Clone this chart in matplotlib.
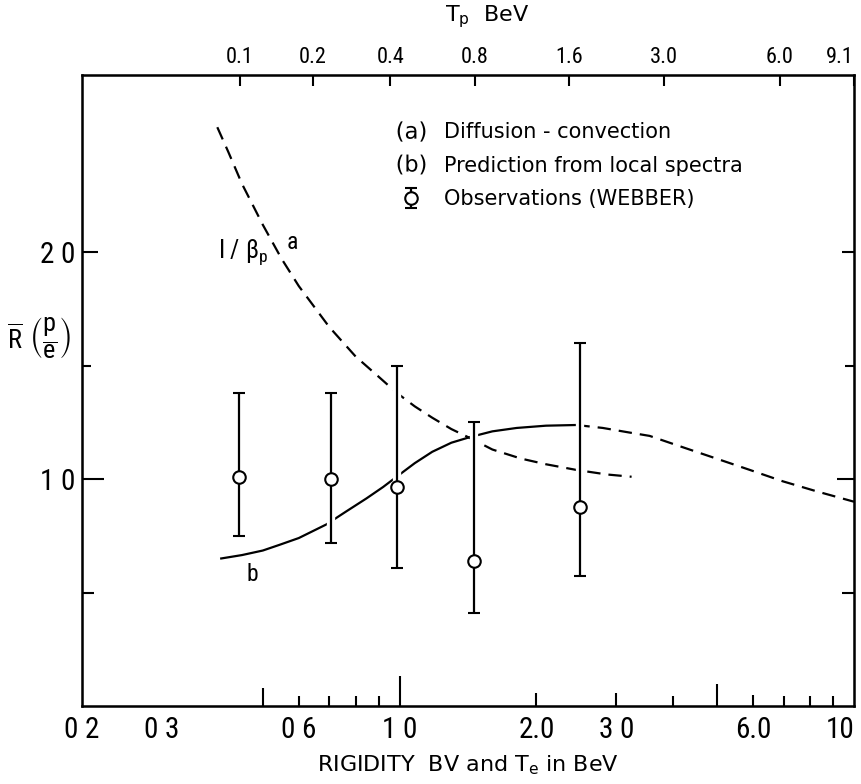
import numpy as np
import matplotlib
matplotlib.use("Agg")
import matplotlib.pyplot as plt
from matplotlib import font_manager
from matplotlib.lines import Line2D
import matplotlib.patheffects as pe

# pick a narrow sans if one is installed, the lettering on the original is condensed
fonts = font_manager.fontManager.ttflist
names = {f.name for f in fonts}
family = 'Liberation Sans'
stretch = 'normal'
for cand in ['Liberation Sans Narrow', 'DejaVu Sans Condensed', 'Roboto Condensed',
             'Noto Sans Condensed', 'Open Sans Condensed']:
    if cand in names:
        family = cand
        break
else:
    for f in fonts:
        if f.name in ('Noto Sans', 'Roboto', 'Open Sans', 'DejaVu Sans') and \
                f.stretch in ('condensed', 'semi-condensed', 'extra-condensed'):
            family = f.name
            stretch = f.stretch
            break

plt.rcParams['font.family'] = [family, 'DejaVu Sans']
plt.rcParams['font.stretch'] = stretch
plt.rcParams['mathtext.default'] = 'regular'
wide = ['DejaVu Sans']

# curve (a): diffusion-convection, 1/beta_p  (rigidity BV, R-bar)
a_rig = [0.397, 0.42, 0.45, 0.50, 0.55, 0.60, 0.70, 0.80, 0.90, 0.985,
         1.08, 1.18, 1.30, 1.43, 1.60, 1.85, 2.10, 2.45, 2.86, 3.24]
a_val = [2.55, 2.44, 2.30, 2.12, 1.97, 1.85, 1.67, 1.54, 1.45, 1.38,
         1.32, 1.27, 1.22, 1.18, 1.13, 1.09, 1.065, 1.04, 1.02, 1.01]

# curve (b): prediction from local spectra, solid then dashed
b_rig = [0.405, 0.45, 0.50, 0.544, 0.60, 0.69, 0.76, 0.846, 0.92, 0.985,
         1.08, 1.18, 1.30, 1.43, 1.60, 1.81, 2.10, 2.45,
         2.80, 3.20, 3.55, 4.20, 4.98, 5.90, 6.97, 8.30, 10.0]
b_val = [0.65, 0.665, 0.685, 0.71, 0.74, 0.80, 0.855, 0.915, 0.965, 1.01,
         1.07, 1.12, 1.16, 1.185, 1.21, 1.225, 1.235, 1.238,
         1.225, 1.205, 1.19, 1.14, 1.09, 1.04, 0.99, 0.945, 0.90]
b_solid_end = 2.45

# observations (WEBBER)
obs_rig = [0.444, 0.708, 0.985, 1.46, 2.49]
obs_val = [1.01, 1.00, 0.965, 0.64, 0.877]
obs_hi = [1.38, 1.38, 1.50, 1.25, 1.60]
obs_lo = [0.75, 0.72, 0.61, 0.41, 0.573]

# bottom axis
x_major = [0.2, 0.3, 0.5, 0.6, 1.0, 2.0, 3.0, 5.0, 6.0, 10.0]
x_major_lbl = ['0 2', '0 3', '', '0 6', '1 0', '2.0', '3 0', '', '6.0', '10']
x_major_len = [0, 0, 13, 7, 21.5, 9.5, 9.5, 16, 8, 0]
x_minor = [0.7, 0.8, 0.9, 4.0, 7.0, 8.0, 9.0]

# top axis: proton kinetic energy
tp_vals = [0.1, 0.2, 0.4, 0.8, 1.6, 3.0, 6.0, 9.1]
tp_lbls = ['0.1', '0.2', '0.4', '0.8', '1.6', '3.0', '6.0', '9.1']
m_p = 0.938

y_ticks = [0.5, 1.0, 1.5, 2.0]
y_lbls = ['', '1 0', '', '2 0']
y_len_left = [8.5, 16, 6.5, 11.5]
y_len_right = [8.5, 12, 6.5, 8.5]

fig = plt.figure(figsize=(8.61, 7.84), dpi=100)
ax = fig.add_axes([82 / 861, 1 - 706 / 784, 772 / 861, 631 / 784])
ax.set_xscale('log')
ax.set_xlim(0.2, 10)
ax.set_ylim(0, 2.78)

lw = 1.6
dash = (6, 3.6)
ax.plot(a_rig, a_val, color='k', lw=lw, dashes=dash, zorder=2)
b_rig = np.array(b_rig)
b_val = np.array(b_val)
s = b_rig <= b_solid_end
ax.plot(b_rig[s], b_val[s], color='k', lw=lw, zorder=2)
d = b_rig >= b_solid_end
ax.plot(b_rig[d], b_val[d], color='k', lw=lw, dashes=dash, zorder=2)

obs_val = np.array(obs_val)
yerr = [obs_val - np.array(obs_lo), np.array(obs_hi) - obs_val]
eb = ax.errorbar(obs_rig, obs_val, yerr=yerr, fmt='o', ms=9, mfc='white',
                 mec='k', mew=1.5, color='k', elinewidth=1.6, capsize=4.5,
                 capthick=1.6, zorder=3, label='Observations (WEBBER)')
for ln in eb[2]:
    ln.set_path_effects([pe.Stroke(linewidth=6, foreground='white'), pe.Normal()])

ax.text(0.512, 2.0, r'I / $\beta_{p}$', ha='right', va='center', fontsize=18)
ax.text(0.565, 2.04, 'a', ha='left', va='center', fontsize=17)
ax.text(0.475, 0.58, 'b', ha='center', va='center', fontsize=17)

h_a = Line2D([], [], ls='none', marker=r'$\mathsf{(a)}$', color='k', markersize=20, mew=0)
h_b = Line2D([], [], ls='none', marker=r'$\mathsf{(b)}$', color='k', markersize=20, mew=0)
ax.legend([h_a, h_b, eb], ['Diffusion - convection', 'Prediction from local spectra',
                          'Observations (WEBBER)'],
          loc='upper left', bbox_to_anchor=(0.379, 0.955), frameon=False,
          prop={'family': wide, 'size': 15}, handlelength=1.7,
          handletextpad=0.75, labelspacing=0.65)

# bottom / left ticks
ax.set_xticks(x_major)
ax.set_xticklabels(x_major_lbl)
ax.set_xticks(x_minor, minor=True)
ax.xaxis.set_minor_formatter(plt.NullFormatter())
ax.tick_params(axis='x', which='both', direction='in', top=False, width=1.5,
               labelsize=21, pad=7)
ax.tick_params(axis='x', which='minor', length=7)
for t, ln in zip(ax.xaxis.get_major_ticks(), x_major_len):
    t.tick1line.set_markersize(ln)
ax.get_xticklabels()[-1].set_ha('right')

ax.set_yticks(y_ticks)
ax.set_yticklabels(y_lbls)
ax.tick_params(axis='y', direction='in', right=True, width=1.5, labelsize=21, pad=4.5)
for t, l1, l2 in zip(ax.yaxis.get_major_ticks(), y_len_left, y_len_right):
    t.tick1line.set_markersize(l1)
    t.tick2line.set_markersize(l2)

for sp in ax.spines.values():
    sp.set_linewidth(1.8)

ax.set_xlabel(r'RIGIDITY  BV and T$_{e}$ in BeV', fontsize=16, family=wide,
              labelpad=7)
fig.text(0.046, 0.569, r'$\overline{R}\ \left(\dfrac{p}{e}\right)$', fontsize=19,
         ha='center', va='center')

# top axis in proton kinetic energy
top = ax.twiny()
top.set_xscale('log')
top.set_xlim(ax.get_xlim())
tp_pos = [np.sqrt(t * t + 2 * t * m_p) for t in tp_vals]
top.set_xticks(tp_pos)
top.set_xticklabels(tp_lbls)
top.xaxis.set_minor_locator(plt.NullLocator())
top.tick_params(axis='x', direction='in', length=8, width=1.5, labelsize=16, pad=5)
top.get_xticklabels()[-1].set_ha('right')
top.set_xlabel(r'T$_{p}$  BeV', fontsize=16, family=wide, labelpad=8)
top.xaxis.set_label_coords(0.525, 1.085)

fig.savefig('out.png', dpi=100)
